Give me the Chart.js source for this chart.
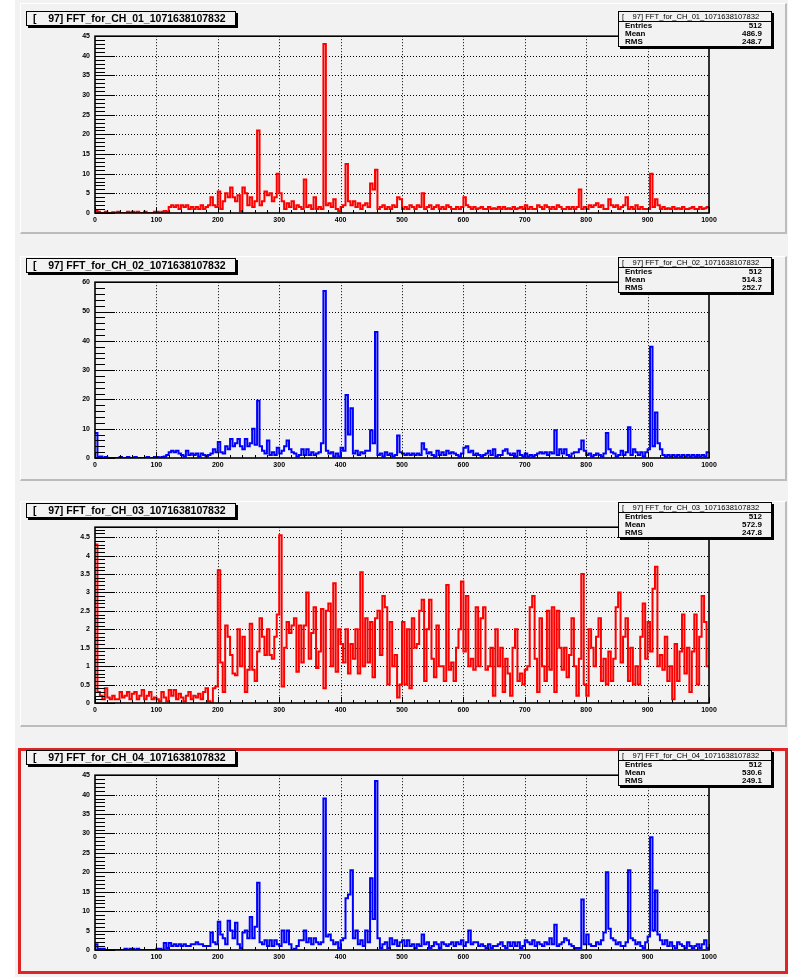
<!DOCTYPE html>
<html>
<head>
<meta charset="utf-8">
<script src="https://cdn.jsdelivr.net/npm/chart.js@4.4.0/dist/chart.umd.min.js"></script>
<style>
  body { margin: 0; width: 788px; height: 977px; overflow: hidden; position: relative; background: #fff;
         font-family: "Liberation Sans", Arial, Helvetica, sans-serif; }
  .bg { position: absolute; left: 15px; top: 0; width: 773px; height: 977px; background: #f2f2f2; }
  .pad { position: absolute; box-sizing: border-box; background: #f2f2f2;
         border-top: 1px solid #fff; border-left: 1px solid #fff;
         border-right: 2px solid #bcbcbc; border-bottom: 2px solid #bcbcbc; }
  .pad.sel { border: 3px solid #e02424; }
  canvas { position: absolute; left: 0; }
  .title { position: absolute; left: 26px; width: 210px; height: 15px; box-sizing: border-box;
           border: 1px solid #000; box-shadow: 2px 2px 0 #000; background: #f2f2f2;
           font-weight: bold; font-size: 10.5px; line-height: 13px; white-space: pre; padding-left: 6px; z-index: 2; }
  .stats { position: absolute; left: 618px; width: 154px; height: 36px; box-sizing: border-box;
           border: 1px solid #000; box-shadow: 2px 2px 0 #000; background: #f2f2f2; z-index: 2;
           font-size: 8px; font-weight: bold; line-height: 8px; overflow: hidden; }
  .stats .sh { height: 9px; border-bottom: 1px solid #000; font-weight: normal; font-size: 7.6px;
               line-height: 9px; white-space: pre; overflow: hidden; padding-left: 3px; }
  .stats .row { display: flex; justify-content: space-between; padding: 0 9px 0 6px; height: 8px; }
</style>
</head>
<body>
<div class="bg"></div>
<div id="root"></div>
<script>
// histogram contents, 250 bins of width 4 between 0 and 1000
const binWidth = 4;
const xTicks = [0, 100, 200, 300, 400, 500, 600, 700, 800, 900, 1000];

const ch01 = [
  0.5,0.3,0,0,0.3,0,0,0.2,0,0.3,0,0,0,0.3,0,0.3,0,0.3,0,0,0.3,0,0,0,0.3,
  0.3,0,0.3,0.5,0.3,1.5,2,1.5,2,1,2,1.5,2,1,1.5,1,1.5,1,2,1,1.5,2,4,2,1.5,
  5.5,1,3,5,4,6.5,4,3,4.5,0.5,6.5,5,2,4,1.5,3,21,2,3,5.5,4.5,5,3,4,10,
  5,3,1,2.5,1.5,3,1,2,1.5,1,8.5,1.5,2,1,4,1,1.5,1,43,2,2.5,1.5,3.5,1,0.5,
  1.5,2,12.5,3,2,3,1.5,2.5,1,2,2.5,1.5,7.5,6,11,1,1.5,2,1,1.5,1,2,1.5,4,3.5,
  1,1.5,1,2,1.5,1,2,1.5,5,1,1.5,2,1,1.5,2,1,1.5,1,2,1.5,1,1,1.5,1,1.5,
  4,2,1.5,1,1.5,1,1.2,1.5,1,1,1.5,1,1.2,1,1.5,1,1.5,1,1.2,1,1.5,1,1.2,1.5,1,
  2,1,1.5,1,1,2,1.5,1,2,1.5,1,1.5,1,2,1.5,1,1,1.5,1,1.5,1,1.5,6,1,1.5,
  1,2,1.5,2,2.5,1.5,2,1,1,3.5,2,1.5,2,1,1.5,2,4,1,1.5,1,2,1,1.5,1,1,
  1,10,1.5,3.5,2,1,1.5,1,1.2,1,1.5,1,1.2,1,1.5,1,1,1.2,1.5,1,1,1.5,1,1.2,1.5
];
const ch02 = [
  8.5,0.3,0.5,0,0.3,0,0,0,0,0,0.3,0,0,0.3,0,0,0.3,0,0,0,0,0.3,0,0,0.3,
  0.3,0,0.3,0.5,1,2,2.5,2,2.5,1.5,1,0.5,2.5,1,1.5,1,1.5,0.5,1.5,1,0.5,1,1.5,3,2,
  5.5,2,1.5,4,3,6.5,4,5,6.5,4,3,6.5,4,5,10,4.5,19.5,4,2.5,1.5,6,1,2,1,3.5,
  1.5,2.5,4,6,3,2,1.5,0.5,1,3,1,3,1,2,1,1.5,2,5,57,2.5,1.5,2,0.5,1.5,0.5,
  3.5,2.5,21.5,8,17,1.5,2.5,1,2,1.5,2.5,2.5,9.5,5,43,1,1.5,0.5,2,1,1.5,0.5,1,7.7,2,
  1.5,1,1.5,1,1.5,1,1.5,1,5,3,1.5,2,1,0.5,2.5,1,2,1,2.5,1.5,2,1.5,1,0.5,1.5,
  3.5,4,2,2.5,1,1.5,1,0.5,1,1.5,2.5,1,3,0.5,1,1,2.5,3,1.5,1,1.5,0.5,2.5,1,0.5,
  1.5,0.5,1,0.5,1,1.5,2,1.5,2,1,2,1.5,9.5,1,3,1.5,3,1,0.5,1.5,2,2,3,6,2.5,
  1,1.5,0.5,1,1.5,1,0.5,1.5,8.5,3,2,1.5,0.5,1,2.5,1,2,10.5,1,3,2,1,2,0.5,2,
  3,38,4,15.5,5,3,1,0.5,1,0.5,1,0.5,1,0.5,1,0.5,1,0.5,1,0.5,1,0.5,1,0.5,2
];
const ch03 = [
  4.3,0.3,0.2,0.1,0.4,0.15,0.1,0.2,0.1,0.1,0.3,0.15,0.2,0.3,0.1,0.25,0.3,0.1,0.2,0.35,0.1,0.2,0.3,0.1,0.15,
  0.1,0.05,0.3,0.15,0.05,0.35,0.2,0.35,0.1,0.25,0.15,0.05,0.2,0.3,0.1,0.2,0.15,0.25,0.1,0.3,0.4,0.05,0,0.4,0.45,
  3.6,1.1,0.3,2.1,1.8,1.3,0.8,0.75,2.0,1.0,1.8,0.3,0.9,2.15,0.9,0.6,1.4,2.3,1.8,1.3,2.0,1.3,1.2,1.8,2.4,
  4.55,0.45,1.5,2.2,1.9,2.1,2.3,0.85,2.1,1.1,2.1,3.0,1.2,1.9,2.6,0.95,1.4,2.55,0.4,2.5,2.7,1.0,3.25,0.85,2.0,
  1.6,1.1,2.0,0.8,1.6,1.2,2.0,0.8,3.55,1.0,2.3,1.1,2.2,0.7,2.3,2.5,1.3,2.9,2.6,0.5,2.2,1.0,1.3,0.15,0.5,
  2.2,0.5,2.0,0.4,2.3,1.5,1.6,2.5,2.8,0.6,2.0,2.8,1.2,0.7,2.1,1.0,1.0,0.6,3.2,0.9,1.1,0.6,1.5,2.0,3.3,
  1.4,2.9,1.0,1.2,0.9,2.6,1.0,2.3,2.6,0.9,1.0,1.5,0.2,2.0,1.0,1.5,0.3,1.2,0.8,0.2,1.5,2.0,0.6,0.8,0.5,
  0.9,1.0,2.6,2.9,1.2,0.3,2.3,1.0,0.6,2.5,0.9,2.6,0.3,2.5,1.5,0.9,1.5,0.7,1.3,2.3,1.0,0.2,1.2,3.5,0.5,
  0.2,2.0,1.5,1.0,1.8,2.3,0.6,1.2,0.5,1.4,0.6,1.2,2.6,3.0,1.1,1.8,2.3,0.6,1.5,0.5,1.0,0.5,1.8,2.7,1.2,
  2.2,1.4,3.1,3.7,1.0,1.3,0.9,1.8,0.6,1.0,0.1,1.6,0.6,1.4,2.4,0.8,1.5,0.3,1.4,2.4,0.5,1.8,2.9,2.2,1.0
];
const ch04 = [
  1.5,0.3,0.3,0.3,0,0,0,0,0,0,0,0,0.3,0,0.3,0.3,0,0.3,0,0,0,0,0,0,0,
  0.3,0.3,0,1.8,0.5,1.8,1,1.5,1,1.5,1,1.5,1,1,1.5,1.5,2,1.5,1.5,1,1,1,4.5,2,1.5,
  7.3,4,3,1.5,7.5,5,3,7,1.5,0.5,4.5,5,3,8.5,3,6,17.3,2,1.5,2.5,1,2.5,1,2.5,1.5,
  1,5,2,5,1.5,0,0.3,1,2.5,2.5,5,2,3,1.5,3,2,1.5,2,39,3.5,4,2.5,1.5,2,0.5,
  2.5,3,13.3,14.3,20.5,3,5,1.5,2.5,1,5,2,18.5,8,43.5,3,0.5,1.5,2,0.5,3,1.5,2.5,1,2,
  2.5,1,2.5,1,1.5,0.5,1.5,1,4,1.5,2,0.5,1,2,1.5,0.5,2,1.5,1,1.5,2,1,2,1.5,2.5,
  1,2,5,1.5,2,2,1,1.5,1,0.5,1.5,0.5,1,1,1.5,2,1,0.5,2,1,2,1,2,0.5,1,
  2.5,2,1.5,2.5,1,2,1.5,1,2,1.5,3,1.5,6.5,1,1.5,2,3,2.5,1.5,1,0.5,0.5,0.5,13,1.5,
  4,1.5,1,1,2,1.5,2.5,4.5,20,5.5,3,2.5,1.5,2,1,1,2,20.5,3,2.5,1.5,2,1,0.5,2,
  3.5,29,5,15.3,4,2.5,1.5,2.5,1,2,1,0.5,2,1.5,1,0.5,2,1,0.5,1,1.5,0.5,1.5,2.5,0.5
];

const yTicks01 = [0, 5, 10, 15, 20, 25, 30, 35, 40, 45];
const yTicks02 = [0, 10, 20, 30, 40, 50, 60];
const yTicks03 = [0, 0.5, 1, 1.5, 2, 2.5, 3, 3.5, 4, 4.5];
const yTicks04 = [0, 5, 10, 15, 20, 25, 30, 35, 40, 45];

const names = ['FFT_for_CH_01_1071638107832', 'FFT_for_CH_02_1071638107832',
               'FFT_for_CH_03_1071638107832', 'FFT_for_CH_04_1071638107832'];
const entries = [512, 512, 512, 512];
const means = ['486.9', '514.3', '572.9', '530.6'];
const rmsValues = ['248.7', '252.7', '247.8', '249.1'];

// layout of the four pads (page pixels)
const pads = [
  { series: ch01, yTicks: yTicks01, yMax: 45, yMinor: 1, color: '#ff0000',
    top: 3, bottom: 234, frameTop: 33, frameBottom: 213, titleTop: 11, statsTop: 11 },
  { series: ch02, yTicks: yTicks02, yMax: 60, yMinor: 2, color: '#0000ff',
    top: 256, bottom: 481, frameTop: 279, frameBottom: 458, titleTop: 258, statsTop: 257 },
  { series: ch03, yTicks: yTicks03, yMax: 4.77, yMinor: 0.1, color: '#ff0000',
    top: 501, bottom: 727, frameTop: 524, frameBottom: 703, titleTop: 503, statsTop: 502 },
  { series: ch04, yTicks: yTicks04, yMax: 45, yMinor: 1, color: '#0000ff',
    top: 748, bottom: 974, frameTop: 772, frameBottom: 950, titleTop: 750, statsTop: 750, sel: true }
];

// ROOT style frame: dotted grid, inside ticks, black box
const rootFrame = {
  id: 'rootFrame',
  beforeDatasetsDraw(chart, args, opts) {
    const { ctx, chartArea: a, scales: { x, y } } = chart;
    ctx.save();
    ctx.strokeStyle = '#000';
    ctx.lineWidth = 1;
    ctx.setLineDash([1, 2]);
    ctx.beginPath();
    x.ticks.forEach(t => {
      if (t.value <= x.min || t.value >= x.max) return;
      const px = Math.round(x.getPixelForValue(t.value)) + 0.5;
      ctx.moveTo(px, a.top); ctx.lineTo(px, a.bottom);
    });
    y.ticks.forEach(t => {
      if (t.value <= y.min || t.value >= y.max) return;
      const py = Math.round(y.getPixelForValue(t.value)) + 0.5;
      ctx.moveTo(a.left, py); ctx.lineTo(a.right, py);
    });
    ctx.stroke();
    ctx.restore();
  },
  afterDatasetsDraw(chart, args, opts) {
    const { ctx, chartArea: a, scales: { x, y } } = chart;
    ctx.save();
    ctx.strokeStyle = '#000';
    ctx.lineWidth = 1;
    ctx.beginPath();
    for (let v = 0; v <= y.max + 1e-9; v += opts.yMinor) {
      const py = Math.round(y.getPixelForValue(v)) + 0.5;
      const major = y.ticks.some(t => Math.abs(t.value - v) < 1e-6);
      ctx.moveTo(a.left, py); ctx.lineTo(a.left + (major ? 20 : 10), py);
    }
    for (let v = 0; v <= x.max; v += opts.xMinor) {
      const px = Math.round(x.getPixelForValue(v)) + 0.5;
      const major = v % 100 === 0;
      ctx.moveTo(px, a.bottom); ctx.lineTo(px, a.bottom - (major ? 6 : 3));
    }
    ctx.stroke();
    ctx.lineWidth = 1.6;
    ctx.strokeRect(a.left, a.top, a.right - a.left, a.bottom - a.top);
    ctx.restore();
  }
};

const root = document.getElementById('root');
const tickFont = { family: '"Liberation Sans", Arial, sans-serif', size: 7, weight: 'bold' };

pads.forEach((p, i) => {
  const pad = document.createElement('div');
  pad.className = 'pad' + (p.sel ? ' sel' : '');
  pad.style.left = (p.sel ? 18 : 20) + 'px';
  pad.style.width = (p.sel ? 770 : 767) + 'px';
  pad.style.top = p.top + 'px';
  pad.style.height = (p.bottom - p.top) + 'px';
  root.appendChild(pad);

  const title = document.createElement('div');
  title.className = 'title';
  title.style.top = p.titleTop + 'px';
  title.textContent = '[    97] ' + names[i];
  root.appendChild(title);

  const stats = document.createElement('div');
  stats.className = 'stats';
  stats.style.top = p.statsTop + 'px';
  stats.innerHTML =
    '<div class="sh">[    97] ' + names[i] + '</div>' +
    '<div class="row"><span>Entries</span><span>' + entries[i] + '</span></div>' +
    '<div class="row"><span>Mean</span><span>' + means[i] + '</span></div>' +
    '<div class="row"><span>RMS</span><span>' + rmsValues[i] + '</span></div>';
  root.appendChild(stats);

  const canvas = document.createElement('canvas');
  const padTop = 6;
  canvas.width = 788;
  canvas.height = p.frameBottom - p.frameTop + padTop + 14;
  canvas.style.top = (p.frameTop - padTop) + 'px';
  canvas.style.zIndex = 1;
  root.appendChild(canvas);

  // bin low edges + closing point at the upper edge of the last bin
  const pts = p.series.map((v, k) => ({ x: k * binWidth, y: v }));
  pts.push({ x: p.series.length * binWidth, y: p.series[p.series.length - 1] });

  new Chart(canvas, {
    type: 'line',
    data: {
      datasets: [{
        data: pts,
        borderColor: p.color,
        borderWidth: 2,
        stepped: true,
        pointRadius: 0,
        fill: false
      }]
    },
    options: {
      responsive: false,
      animation: false,
      events: [],
      layout: { padding: { left: 0, right: 79, top: padTop, bottom: 0 } },
      plugins: {
        legend: { display: false },
        tooltip: { enabled: false },
        rootFrame: { xMinor: 20, yMinor: p.yMinor }
      },
      scales: {
        x: {
          type: 'linear', min: 0, max: 1000,
          afterBuildTicks: s => { s.ticks = xTicks.map(v => ({ value: v })); },
          afterFit: s => { s.height = 14; },
          grid: { display: false, drawTicks: false },
          border: { display: false },
          ticks: { padding: 3, color: '#000', font: tickFont, maxRotation: 0, autoSkip: false,
                   callback: v => String(v) }
        },
        y: {
          type: 'linear', min: 0, max: p.yMax,
          afterBuildTicks: s => { s.ticks = p.yTicks.map(v => ({ value: v })); },
          afterFit: s => { s.width = 95; },
          grid: { display: false, drawTicks: false },
          border: { display: false },
          ticks: { padding: 5, color: '#000', font: tickFont, autoSkip: false,
                   callback: v => String(v) }
        }
      }
    },
    plugins: [rootFrame]
  });
});
</script>
</body>
</html>
